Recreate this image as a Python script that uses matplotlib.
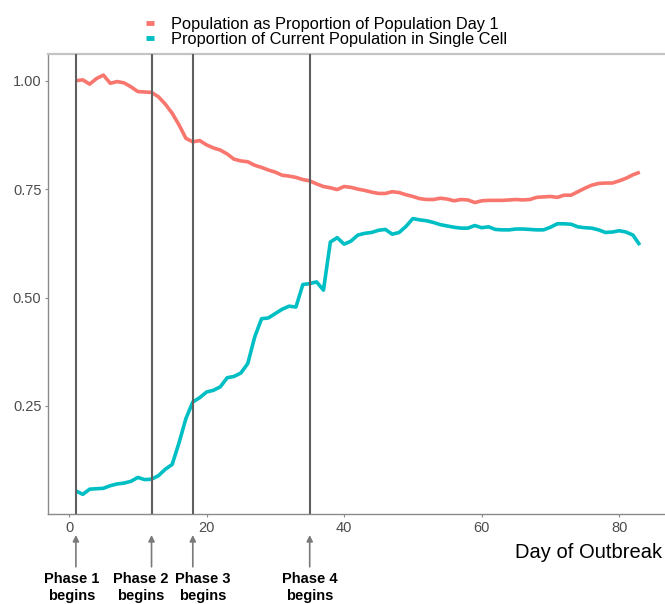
import numpy as np
import matplotlib
matplotlib.use("Agg")
import matplotlib.pyplot as plt

plt.rcParams['font.family'] = ['Liberation Sans', 'DejaVu Sans']

# daily series, day 1 .. 83
days = np.arange(1, 84)

pop_vs_day1 = [
    1.000, 1.002, 0.992, 1.005, 1.013, 0.994, 0.998, 0.995, 0.986, 0.975,
    0.974, 0.973, 0.963, 0.946, 0.925, 0.898, 0.867, 0.859, 0.862, 0.852,
    0.845, 0.840, 0.831, 0.819, 0.815, 0.813, 0.805, 0.800, 0.794, 0.789,
    0.782, 0.780, 0.777, 0.772, 0.769, 0.762, 0.756, 0.753, 0.749, 0.756,
    0.754, 0.750, 0.747, 0.743, 0.740, 0.740, 0.744, 0.742, 0.737, 0.733,
    0.728, 0.726, 0.726, 0.729, 0.727, 0.723, 0.726, 0.725, 0.719, 0.723,
    0.724, 0.724, 0.724, 0.725, 0.726, 0.725, 0.726, 0.731, 0.732, 0.733,
    0.731, 0.736, 0.736, 0.744, 0.752, 0.759, 0.763, 0.764, 0.764, 0.769,
    0.775, 0.783, 0.789,
]

single_cell_share = [
    0.054, 0.046, 0.058, 0.059, 0.060, 0.066, 0.070, 0.072, 0.076, 0.085,
    0.080, 0.081, 0.089, 0.104, 0.115, 0.165, 0.221, 0.259, 0.269, 0.282,
    0.286, 0.294, 0.315, 0.318, 0.326, 0.348, 0.409, 0.451, 0.453, 0.463,
    0.473, 0.480, 0.478, 0.530, 0.532, 0.536, 0.517, 0.628, 0.638, 0.623,
    0.630, 0.644, 0.648, 0.650, 0.655, 0.657, 0.646, 0.650, 0.664, 0.682,
    0.679, 0.677, 0.673, 0.668, 0.665, 0.662, 0.660, 0.660, 0.666, 0.661,
    0.663, 0.657, 0.656, 0.656, 0.658, 0.658, 0.657, 0.656, 0.656, 0.662,
    0.670, 0.670, 0.669, 0.663, 0.661, 0.660, 0.656, 0.650, 0.651, 0.654,
    0.651, 0.644, 0.621,
]

phase_days = [1, 12, 18, 35]
phase_labels = ['Phase 1\nbegins', 'Phase 2\nbegins', 'Phase 3\nbegins', 'Phase 4\nbegins']
# label centres nudged so the texts don't collide
phase_label_x = [0.4, 10.5, 19.5, 35.0]

RED = '#F8766D'
TEAL = '#00BFC4'


def plot_outbreak():
    fig = plt.figure(figsize=(6.65, 6.04), dpi=100, facecolor='white')
    ax = fig.add_axes([47.7 / 665, 0.1485, (668 - 47.7) / 665, 0.7621])

    ax.plot(days, pop_vs_day1, color=RED, lw=2.6, solid_capstyle='butt',
            label='Population as Proportion of Population Day 1', zorder=2)
    ax.plot(days, single_cell_share, color=TEAL, lw=2.6, solid_capstyle='butt',
            label='Proportion of Current Population in Single Cell', zorder=2)

    for d in phase_days:
        ax.axvline(d, color='#5f5f5f', lw=1.5, zorder=3)

    ax.set_xlim(-3.1, 87.1)
    ax.set_ylim(0.0, 1.0616)
    ax.set_xticks([0, 20, 40, 60, 80])
    ax.set_yticks([0.25, 0.50, 0.75, 1.00])
    ax.set_yticklabels(['0.25', '0.50', '0.75', '1.00'])
    ax.tick_params(axis='both', colors='#8a8a8a', labelcolor='#4d4d4d',
                   labelsize=10.5, length=2.5, width=0.8, pad=2)

    for side in ['left', 'bottom']:
        ax.spines[side].set_color('#8a8a8a')
        ax.spines[side].set_linewidth(1.0)
    ax.spines['top'].set_color('#c4c4c4')
    ax.spines['top'].set_linewidth(1.6)
    ax.spines['right'].set_visible(False)

    fig.text(662 / 665, 1 - 552 / 604, 'Day of Outbreak', ha='right', va='center',
             fontsize=14.5, color='black')

    # arrows and labels under the axis marking each phase start
    tr = ax.get_xaxis_transform()
    for d, lx, lab in zip(phase_days, phase_label_x, phase_labels):
        ax.annotate('', xy=(d, -0.045), xytext=(d, -0.114), xycoords=tr,
                    textcoords=tr, annotation_clip=False,
                    arrowprops=dict(arrowstyle='-|>', color='#7a7a7a', lw=1.2,
                                    mutation_scale=9, shrinkA=0, shrinkB=0))
        ax.text(lx, -0.126, lab, transform=tr, ha='center', va='top',
                fontsize=10.5, fontweight='bold', linespacing=1.2)

    leg = fig.legend(loc='upper left', bbox_to_anchor=(138 / 665, 1 - 9 / 604),
                     frameon=False, fontsize=11.8, handlelength=0.5,
                     handletextpad=1.0, labelspacing=0.0, borderpad=0)
    for line in leg.get_lines():
        line.set_linewidth(3.5)

    plt.savefig('out.png', dpi=100, facecolor='white')


if __name__ == "__main__":
    plot_outbreak()
